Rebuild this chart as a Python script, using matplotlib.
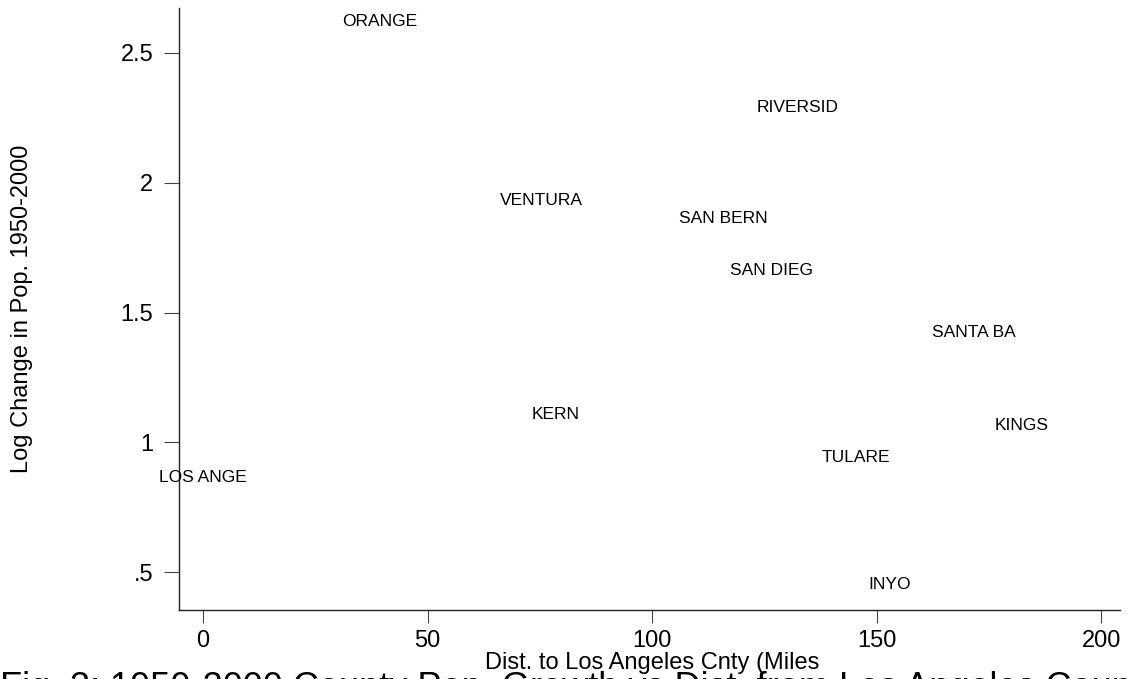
import matplotlib
matplotlib.use("Agg")
import matplotlib.pyplot as plt

plt.rcParams['font.family'] = ['Liberation Sans', 'DejaVu Sans']

counties = ["ORANGE", "VENTURA", "RIVERSID", "SAN BERN", "SAN DIEG", "SANTA BA",
            "KERN", "LOS ANGE", "KINGS", "TULARE", "INYO"]
dist_miles = [39.4, 75.4, 132.5, 115.9, 126.5, 171.6, 78.6, 0.0, 182.4, 145.4, 152.8]
log_change = [2.62, 1.931, 2.289, 1.861, 1.662, 1.423, 1.108, 0.865, 1.063, 0.94, 0.454]

xticks = [0, 50, 100, 150, 200]
xticklabels = ["0", "50", "100", "150", "200"]
yticks = [0.5, 1, 1.5, 2, 2.5]
yticklabels = [".5", "1", "1.5", "2", "2.5"]

W, H = 1131, 679
fig = plt.figure(figsize=(W / 100, H / 100), dpi=100)
ax = fig.add_axes([179 / W, 1 - 610 / H, (1120 - 179) / W, (610 - 8) / H])

for name, x, y in zip(counties, dist_miles, log_change):
    ax.text(x, y, name, ha='center', va='center', fontsize=12.5, color='black',
            clip_on=False)

ax.set_xlim(-5.35, 204.2)
ax.set_ylim(0.354, 2.673)
ax.set_xticks(xticks)
ax.set_xticklabels(xticklabels)
ax.set_yticks(yticks)
ax.set_yticklabels(yticklabels)
ax.tick_params(axis='x', direction='out', length=9.5, width=0.8, labelsize=17,
               color='#444444', pad=5)
ax.tick_params(axis='y', direction='out', length=10.5, width=0.8, labelsize=17,
               color='#444444', pad=8)
for s in ['top', 'right']:
    ax.spines[s].set_visible(False)
for s in ['left', 'bottom']:
    ax.spines[s].set_linewidth(1.0)
    ax.spines[s].set_color('#222222')

ax.set_xlabel("Dist. to Los Angeles Cnty (Miles", fontsize=17)
ax.xaxis.label.set_va('baseline')
ax.xaxis.set_label_coords((652 - 179) / 941, (610 - 669) / 602)

ax.set_ylabel("Log Change in Pop. 1950-2000", fontsize=17)
ax.yaxis.label.set_va('center')
ax.yaxis.set_label_coords((22.5 - 179) / 941, 0.5)

fig.text(0.0, 1 - 698 / H, "Fig. 3: 1950-2000 County Pop. Growth vs Dist. from Los Angeles County",
         ha='left', va='baseline', fontsize=26)

fig.savefig("out.png", dpi=100)
